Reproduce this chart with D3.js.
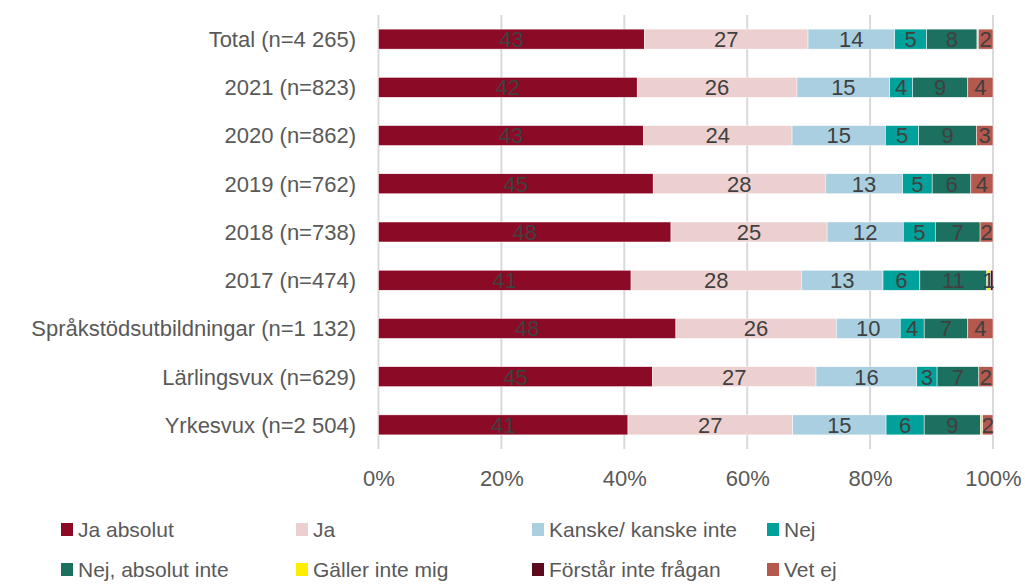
<!DOCTYPE html>
<html>
<head>
<meta charset="utf-8">
<script src="https://cdn.jsdelivr.net/npm/d3@7"></script>
<style>
  body { margin: 0; background: #fff; }
  svg { display: block; font-family: 'Liberation Sans', Arial, sans-serif; }
</style>
</head>
<body>
<svg id="chart"></svg>
<script>
const categories = [
  'Total (n=4 265)',
  '2021 (n=823)',
  '2020 (n=862)',
  '2019 (n=762)',
  '2018 (n=738)',
  '2017 (n=474)',
  'Språkstödsutbildningar (n=1 132)',
  'Lärlingsvux (n=629)',
  'Yrkesvux (n=2 504)'
]

const seriesNames = [
  'Ja absolut',
  'Ja',
  'Kanske/ kanske inte',
  'Nej',
  'Nej, absolut inte',
  'Gäller inte mig',
  'Förstår inte frågan',
  'Vet ej'
]

const seriesColors = ['#8b0a26', '#ecd0d0', '#a9cfe1', '#00a19a', '#1c7060', '#ffed00', '#5c0a1e', '#b5594f']

// percentages per category, in series order
const jaAbsolut = [43.3, 42.1, 43.1, 44.7, 47.6, 41.1, 48.4, 44.6, 40.6]
const ja = [26.6, 26.0, 24.2, 28.0, 25.4, 27.7, 26.1, 26.6, 26.8]
const kanske = [14.1, 15.1, 15.2, 12.6, 12.4, 13.3, 10.4, 16.4, 15.2]
const nej = [5.2, 3.7, 5.4, 4.8, 5.2, 6.0, 3.9, 3.3, 6.2]
const nejAbsolut = [8.2, 9.0, 9.4, 6.3, 7.3, 10.9, 7.1, 6.8, 9.2]
const gallerInte = [0.2, 0, 0, 0, 0, 0.6, 0, 0, 0.3]
const forstarInte = [0, 0, 0, 0, 0, 0.4, 0, 0, 0]
const vetEj = [2.4, 4.1, 2.7, 3.6, 2.1, 0, 4.1, 2.3, 1.7]

const tickValues = [0, 20, 40, 60, 80, 100]

const seriesValues = [jaAbsolut, ja, kanske, nej, nejAbsolut, gallerInte, forstarInte, vetEj]

const rows = categories.map((c, i) => {
  const r = { category: c }
  seriesNames.forEach((s, j) => { r[s] = seriesValues[j][i] })
  return r
})

const width = 1025
const height = 584

const svg = d3.select('#chart').attr('width', width).attr('height', height)

const x = d3.scaleLinear().domain([0, 100]).range([378.5, 993])
const y = d3.scaleBand().domain(categories).range([15, 449]).paddingInner(0.585).paddingOuter(0.2925)

const color = d3.scaleOrdinal().domain(seriesNames).range(seriesColors)

// grid lines
svg.append('g')
  .selectAll('line')
  .data(tickValues)
  .join('line')
  .attr('x1', (d) => x(d))
  .attr('x2', (d) => x(d))
  .attr('y1', 15)
  .attr('y2', 449)
  .attr('stroke', '#d9d9d9')
  .attr('stroke-width', 2)

// x axis labels
svg.append('g')
  .attr('transform', 'translate(0,486)')
  .call(d3.axisBottom(x).tickValues(tickValues).tickFormat((d) => d + '%').tickSize(0).tickPadding(0))
  .call((g) => g.select('.domain').remove())
  .call((g) => g.selectAll('text')
    .attr('dy', 0)
    .attr('fill', '#595959')
    .style('font-size', '22px')
    .style('font-family', "'Liberation Sans', Arial, sans-serif"))

// category labels
svg.append('g')
  .attr('transform', 'translate(356,0)')
  .call(d3.axisLeft(y).tickSize(0).tickPadding(0))
  .call((g) => g.select('.domain').remove())
  .call((g) => g.selectAll('text')
    .attr('fill', '#595959')
    .attr('dy', '0.36em')
    .style('font-size', '22px')
    .style('font-family', "'Liberation Sans', Arial, sans-serif"))

const stacked = d3.stack().keys(seriesNames)(rows)

const layers = svg.append('g')
  .selectAll('g')
  .data(stacked)
  .join('g')
  .attr('fill', (d) => color(d.key))

layers.selectAll('rect')
  .data((d) => d)
  .join('rect')
  .attr('x', (d) => x(d[0]))
  .attr('width', (d) => x(d[1]) - x(d[0]))
  .attr('y', (d) => y(d.data.category))
  .attr('height', y.bandwidth())
  .attr('stroke', '#ffffff')
  .attr('stroke-width', 0.5)

// value labels
const labels = svg.append('g')
stacked.forEach((layer) => {
  labels.selectAll(null)
    .data(layer.filter((d) => Math.round(d[1] - d[0]) > 0))
    .join('text')
    .attr('x', (d) => (x(d[0]) + x(d[1])) / 2)
    .attr('y', (d) => y(d.data.category) + y.bandwidth() / 2)
    .attr('dy', '0.36em')
    .attr('text-anchor', 'middle')
    .attr('fill', '#404040')
    .style('font-size', '22px')
    .text((d) => Math.round(d[1] - d[0]))
})

// legend
const legendX = [61, 296, 532, 767]
const legendY = [529, 569]

const legend = svg.append('g')
  .selectAll('g')
  .data(seriesNames)
  .join('g')
  .attr('transform', (d, i) => `translate(${legendX[i % 4]},${legendY[Math.floor(i / 4)]})`)

legend.append('rect')
  .attr('x', 0)
  .attr('y', -6)
  .attr('width', 12)
  .attr('height', 13)
  .attr('fill', (d) => color(d))

legend.append('text')
  .attr('x', 17)
  .attr('y', 0)
  .attr('dy', '0.36em')
  .attr('fill', '#595959')
  .style('font-size', '21px')
  .text((d) => d)
</script>
</body>
</html>
